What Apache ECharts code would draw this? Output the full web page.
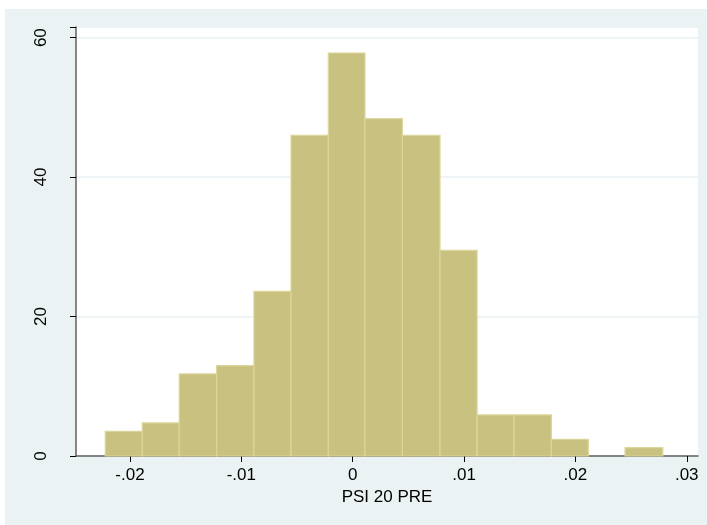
<!DOCTYPE html>
<html>
<head>
<meta charset="utf-8">
<script src="https://cdn.jsdelivr.net/npm/echarts@6/dist/echarts.min.js"></script>
<style>
html,body{margin:0;padding:0;background:#ffffff;}
#chart{width:707px;height:525px;}
</style>
</head>
<body>
<div id="chart"></div>
<script>
// Histogram bins (left and right edges) and density heights
var binLeft  = [-0.02222, -0.01890, -0.01558, -0.01222, -0.00887, -0.00554, -0.00219, 0.00110, 0.00446, 0.00784, 0.01117, 0.01449, 0.01784, 0.02116, 0.02446];
var binRight = [-0.01890, -0.01558, -0.01222, -0.00887, -0.00554, -0.00219, 0.00110, 0.00446, 0.00784, 0.01117, 0.01449, 0.01784, 0.02116, 0.02446, 0.02785];
var density  = [3.55, 4.74, 11.77, 12.97, 23.6, 46.0, 57.8, 48.4, 46.0, 29.5, 5.89, 5.89, 2.4, 0, 1.2];
var xTicks = [-0.02, -0.01, 0, 0.01, 0.02, 0.03];
var xTickLabels = ['-.02', '-.01', '0', '.01', '.02', '.03'];
var yTicks = [0, 20, 40, 60];
var xTitle = 'PSI 20 PRE';

var data = binLeft.map(function (l, i) { return [l, binRight[i], density[i]]; });

var chart = echarts.init(document.getElementById('chart'), null, {renderer: 'canvas'});
var font = '"Liberation Sans", Arial, sans-serif';
chart.setOption({
  animation: false,
  backgroundColor: '#ffffff',
  graphic: [{
    type: 'rect', z: -10, silent: true,
    shape: {x: 5, y: 9, width: 702, height: 516},
    style: {fill: '#eaf2f3'}
  }],
  grid: {
    left: 76, right: 9, top: 27, bottom: 69,
    show: true, backgroundColor: '#ffffff', borderWidth: 0
  },
  xAxis: {
    type: 'value',
    min: -0.02485, max: 0.03101,
    name: xTitle,
    nameLocation: 'middle',
    nameGap: 30,
    nameTextStyle: {color: '#000', fontSize: 17, fontFamily: font},
    axisLine: {show: true, onZero: false, lineStyle: {color: '#5f5f5f', width: 1.5}},
    axisTick: {show: true, length: 6, customValues: xTicks, lineStyle: {color: '#000', width: 1}},
    axisLabel: {
      customValues: xTicks, margin: 11, color: '#000', fontSize: 17, fontFamily: font,
      formatter: function (v) {
        for (var i = 0; i < xTicks.length; i++) { if (Math.abs(v - xTicks[i]) < 1e-9) return xTickLabels[i]; }
        return '';
      }
    },
    splitLine: {show: false}
  },
  yAxis: {
    type: 'value',
    min: 0, max: 61.53, interval: 20,
    axisLine: {show: true, onZero: false, lineStyle: {color: '#5f5f5f', width: 1.5}},
    axisTick: {show: true, length: 6, lineStyle: {color: '#000', width: 1}},
    axisLabel: {
      rotate: 90, margin: 26, color: '#000', fontSize: 17, fontFamily: font,
      formatter: function (v) { return yTicks.indexOf(v) >= 0 ? String(v) : ''; }
    },
    splitLine: {show: true, lineStyle: {color: '#eaf2f3', width: 1.5}}
  },
  series: [{
    type: 'custom',
    data: data,
    encode: {x: [0, 1], y: 2},
    renderItem: function (params, api) {
      var h = api.value(2);
      if (!h) return null;
      var p0 = api.coord([api.value(0), 0]);
      var p1 = api.coord([api.value(1), h]);
      return {
        type: 'rect',
        shape: {x: p0[0], y: p1[1], width: p1[0] - p0[0], height: p0[1] - p1[1]},
        style: {fill: '#c9c17f', stroke: '#dcd69a', lineWidth: 1.2}
      };
    }
  }]
});
</script>
</body>
</html>
